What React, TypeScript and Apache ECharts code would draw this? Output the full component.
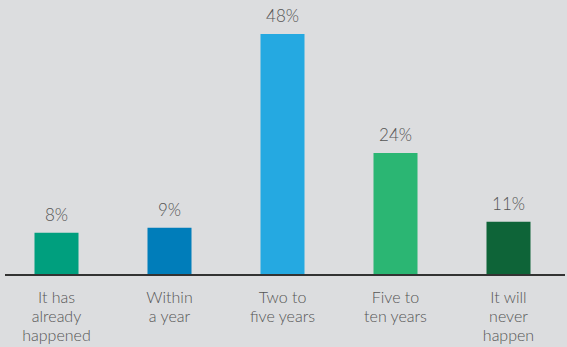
import React, { useEffect, useRef } from "react";
import * as echarts from "echarts";

const categories = [
  "It has\nalready\nhappened",
  "Within\na year",
  "Two to\nfive years",
  "Five to\nten years",
  "It will\nnever\nhappen",
];
const values = [8.4, 9.4, 48, 24.3, 10.6];
const barColors = ["#009f7e", "#007dba", "#25a9e1", "#2bb673", "#0e6438"];

export default function App() {
  const ref = useRef<HTMLDivElement>(null);
  useEffect(() => {
    if (!ref.current) return;
    const chart = echarts.init(ref.current, undefined, { renderer: "svg" });
    const font = "Lato";
    chart.setOption({
      animation: false,
      backgroundColor: "#dcdddf",
      grid: { left: 0, right: 2, top: 34, bottom: 72, containLabel: false },
      xAxis: {
        type: "category",
        data: categories,
        axisLine: { show: false },
        axisTick: { show: false },
        axisLabel: {
          interval: 0,
          margin: 12,
          color: "#555555",
          fontFamily: font,
          fontWeight: 300,
          fontSize: 16,
          lineHeight: 19,
        },
      },
      yAxis: {
        type: "value",
        min: 0,
        max: 48,
        show: false,
        splitLine: { show: false },
      },
      graphic: [
        {
          type: "line",
          shape: { x1: 5, y1: 275, x2: 565, y2: 275 },
          style: { stroke: "#333333", lineWidth: 2 },
          z: 10,
        },
      ],
      series: [
        {
          type: "bar",
          barWidth: 44,
          data: values.map((v, i) => ({ value: v, itemStyle: { color: barColors[i] } })),
          label: {
            show: true,
            position: "top",
            distance: 10,
            formatter: (p: any) => Math.round(p.value) + "%",
            color: "#555555",
            fontFamily: font,
            fontWeight: 300,
            fontSize: 17,
          },
        },
      ],
    });
    return () => chart.dispose();
  }, []);
  return <div ref={ref} style={{ width: 567, height: 347, position: "absolute", left: 0, top: 0 }} />;
}
